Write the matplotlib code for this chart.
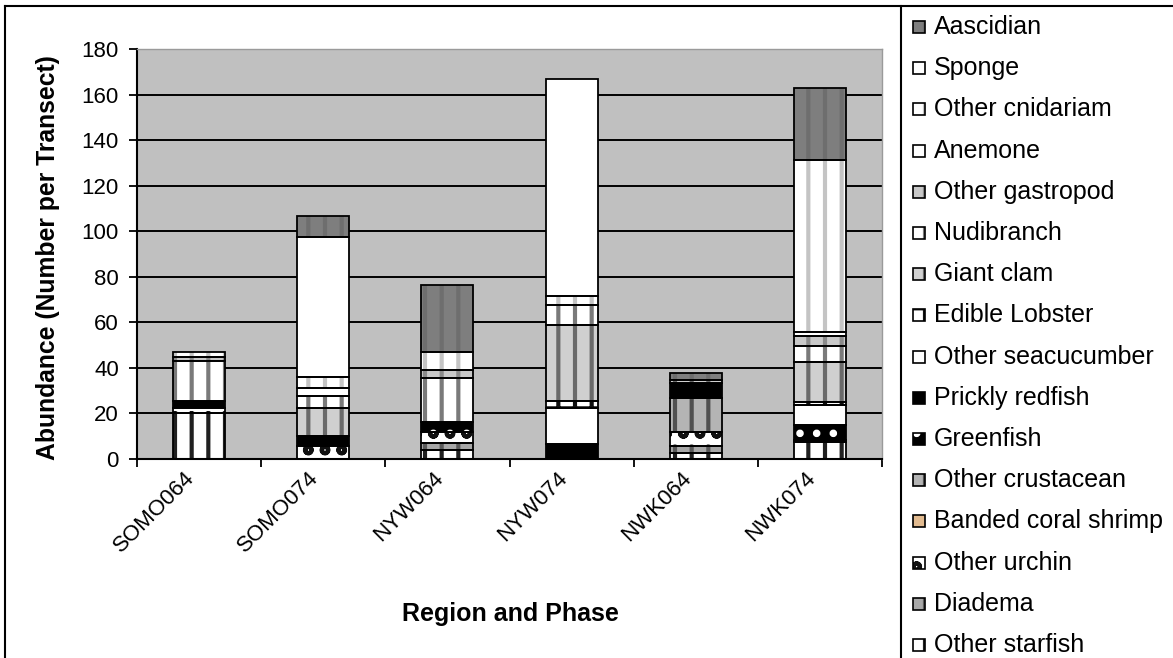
import numpy as np
import matplotlib
matplotlib.use("Agg")
import matplotlib.pyplot as plt
from matplotlib.patches import Rectangle

plt.rcParams['font.family'] = ['Liberation Sans', 'DejaVu Sans']
plt.rcParams['hatch.linewidth'] = 3.0

# ---- data -------------------------------------------------------------
categories = ["SOMO064", "SOMO074", "NYW064", "NYW074", "NWK064", "NWK074"]

# series listed bottom -> top of each stack
other_starfish      = [20.0, 0.0, 4.0, 0.0, 2.5, 7.6]
diadema             = [0.0, 0.0, 3.0, 0.0, 3.2, 0.0]
other_urchin        = [2.5, 5.7, 5.0, 0.0, 6.3, 0.0]
banded_coral_shrimp = [0.0, 0.0, 0.0, 0.0, 0.0, 0.8]
other_crustacean    = [0.0, 0.0, 0.0, 0.0, 14.6, 0.0]
greenfish           = [0.0, 0.0, 4.4, 0.0, 0.0, 6.5]
prickly_redfish     = [3.0, 4.5, 0.0, 6.6, 6.6, 0.0]
other_seacucumber   = [0.0, 0.0, 0.0, 16.0, 0.0, 8.8]
edible_lobster      = [0.0, 0.0, 0.0, 3.0, 0.0, 1.3]
giant_clam          = [0.0, 12.0, 0.0, 33.3, 1.4, 17.5]
nudibranch          = [17.5, 5.5, 19.0, 8.8, 0.0, 7.3]
other_gastropod     = [2.0, 0.0, 3.6, 0.0, 0.0, 4.4]
anemone             = [0.0, 3.3, 0.0, 0.0, 0.0, 1.6]
other_cnidariam     = [2.0, 5.0, 8.0, 4.0, 0.0, 75.5]
sponge              = [0.0, 61.5, 0.0, 95.3, 0.0, 0.0]
aascidian           = [0.0, 9.0, 29.3, 0.0, 3.3, 31.5]

series_names = ["Other starfish", "Diadema", "Other urchin", "Banded coral shrimp",
                "Other crustacean", "Greenfish", "Prickly redfish", "Other seacucumber",
                "Edible Lobster", "Giant clam", "Nudibranch", "Other gastropod",
                "Anemone", "Other cnidariam", "Sponge", "Aascidian"]
series_values = [other_starfish, diadema, other_urchin, banded_coral_shrimp,
                 other_crustacean, greenfish, prickly_redfish, other_seacucumber,
                 edible_lobster, giant_clam, nudibranch, other_gastropod,
                 anemone, other_cnidariam, sponge, aascidian]

# fill styles: (face colour, hatch, hatch colour)
styles = {
    "Other starfish":      ("white",   "|",  "#202020"),
    "Diadema":             ("#a8a8a8", "|",  "#5a5a5a"),
    "Other urchin":        ("white",   "o",  "#101010"),
    "Banded coral shrimp": ("#e2bb90", "",   "#e2bb90"),
    "Other crustacean":    ("#b4b4b4", "|",  "#505050"),
    "Greenfish":           ("black",   ".",  "white"),
    "Prickly redfish":     ("black",   "",   "black"),
    "Other seacucumber":   ("white",   "",   "white"),
    "Edible Lobster":      ("white",   "+",  "#101010"),
    "Giant clam":          ("#d0d0d0", "|",  "#6a6a6a"),
    "Nudibranch":          ("white",   "|",  "#7a7a7a"),
    "Other gastropod":     ("#c8c8c8", "|",  "#8a8a8a"),
    "Anemone":             ("white",   "",   "white"),
    "Other cnidariam":     ("white",   "|",  "#c4c4c4"),
    "Sponge":              ("white",   "",   "white"),
    "Aascidian":           ("#7e7e7e", "|",  "#6e6e6e"),
}

W, H, DPI = 1173, 658, 100
fig = plt.figure(figsize=(W / DPI, H / DPI), dpi=DPI, facecolor="white")

# plot area in pixel coordinates
px_left, px_right, px_top, px_bottom = 137, 882, 49, 459
ax = fig.add_axes([px_left / W, 1 - px_bottom / H,
                   (px_right - px_left) / W, (px_bottom - px_top) / H])
ax.set_facecolor("#c0c0c0")

x = np.arange(len(categories))
bar_w = 0.42
bottom = np.zeros(len(categories))
for name, vals in zip(series_names, series_values):
    vals = np.asarray(vals, dtype=float)
    face, hatch, hcol = styles[name]
    keep = vals > 0
    if keep.any():
        ax.bar(x[keep], vals[keep], bottom=bottom[keep], width=bar_w,
               color=face, hatch=hatch, edgecolor=hcol, linewidth=0, zorder=3)
        ax.bar(x[keep], vals[keep], bottom=bottom[keep], width=bar_w,
               fill=False, edgecolor="black", linewidth=1.3, zorder=4)
    bottom += vals

ax.set_xlim(-0.5, len(categories) - 0.5)
ax.set_ylim(0, 180)
ax.set_yticks(np.arange(0, 181, 20))
ax.tick_params(axis="y", direction="out", length=6, width=1.3, labelsize=16, pad=7)
for yv in range(20, 180, 20):
    ax.axhline(yv, color="black", linewidth=1.4, zorder=1)

# category boundary ticks, labels at centres
ax.set_xticks(np.arange(-0.5, len(categories), 1.0))
ax.set_xticklabels([])
ax.tick_params(axis="x", which="major", direction="out", length=6, width=1.3)
ax.set_xticks(x, minor=True)
ax.set_xticklabels(categories, minor=True, rotation=45, ha="right", fontsize=16)
ax.tick_params(axis="x", which="minor", length=0, pad=6)

for side in ("top", "right"):
    ax.spines[side].set_color("#9a9a9a")
    ax.spines[side].set_linewidth(1.0)
for side in ("left", "bottom"):
    ax.spines[side].set_color("black")
    ax.spines[side].set_linewidth(1.5)
ax.spines["bottom"].set_zorder(5)

# overlay in pixel coordinates for frame, titles and key
ov = fig.add_axes([0, 0, 1, 1], facecolor="none")
ov.set_xlim(0, W)
ov.set_ylim(H, 0)
ov.axis("off")
ov.plot([5, W], [6, 6], color="black", lw=1.5)
ov.plot([5, 5], [6, H], color="black", lw=1.5)
ov.plot([901, 901], [6, H], color="black", lw=1.5)

ov.text(48, 258, "Abundance (Number per Transect)", rotation=90, ha="center",
        va="center", fontsize=17.8, fontweight="bold")
ov.text(510, 614, "Region and Phase", ha="center", va="center",
        fontsize=18, fontweight="bold")

# key, top entry first
for i, name in enumerate(series_names[::-1]):
    yc = 27 + 41.2 * i
    face, hatch, hcol = styles[name]
    ov.add_patch(Rectangle((913, yc - 6), 12, 12, facecolor=face, hatch=hatch,
                           edgecolor=hcol, linewidth=0))
    ov.add_patch(Rectangle((913, yc - 6), 12, 12, fill=False,
                           edgecolor="black", linewidth=1.2))
    ov.text(934, yc, name, ha="left", va="center", fontsize=18)

fig.savefig("out.png", dpi=DPI, facecolor="white")
